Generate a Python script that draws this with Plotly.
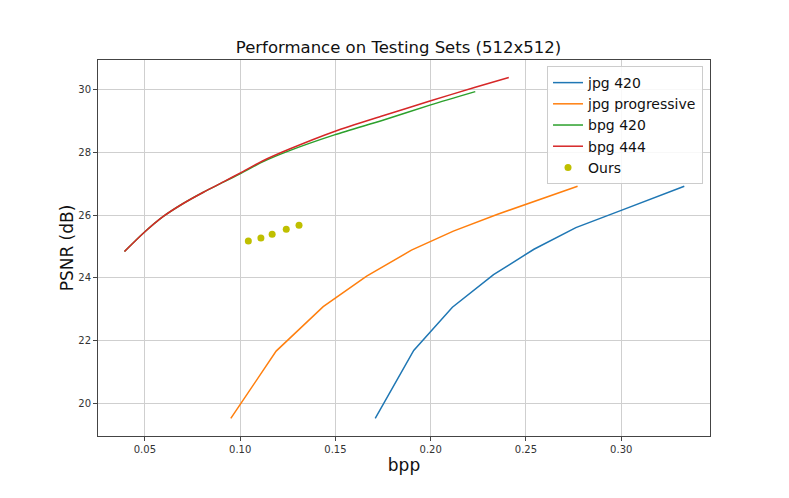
import plotly.graph_objects as go

# jpg 420
jpg420_bpp = [0.1709, 0.1911, 0.2114, 0.2330, 0.2542, 0.2762, 0.3000, 0.3331]
jpg420_psnr = [19.51, 21.68, 23.06, 24.10, 24.91, 25.60, 26.15, 26.92]

# jpg progressive
jpgp_bpp = [0.0951, 0.1189, 0.1436, 0.1664, 0.1899, 0.2119, 0.2348, 0.2771]
jpgp_psnr = [19.51, 21.66, 23.08, 24.05, 24.88, 25.49, 26.02, 26.92]

# bpg 420
bpg420_bpp = [0.0393, 0.0493, 0.0595, 0.0701, 0.0807, 0.0912, 0.1009, 0.1115,
              0.1256, 0.1495, 0.1749, 0.1996, 0.2234]
bpg420_psnr = [24.84, 25.43, 25.95, 26.37, 26.73, 27.05, 27.35, 27.69,
               28.05, 28.56, 29.03, 29.51, 29.94]

# bpg 444
bpg444_bpp = [0.0393, 0.0493, 0.0595, 0.0701, 0.0807, 0.0912, 0.1009, 0.1115,
              0.1256, 0.1495, 0.1749, 0.1996, 0.2234, 0.2410]
bpg444_psnr = [24.84, 25.43, 25.95, 26.37, 26.73, 27.06, 27.37, 27.72,
               28.10, 28.67, 29.17, 29.64, 30.08, 30.39]

# Ours
ours_bpp = [0.1043, 0.1109, 0.1168, 0.1242, 0.1309]
ours_psnr = [25.17, 25.27, 25.39, 25.55, 25.68]

fig = go.Figure()

lines = [
    (jpg420_bpp, jpg420_psnr, 'jpg 420', '#1f77b4', 'linear'),
    (jpgp_bpp, jpgp_psnr, 'jpg progressive', '#ff7f0e', 'linear'),
    (bpg420_bpp, bpg420_psnr, 'bpg 420', '#2ca02c', 'spline'),
    (bpg444_bpp, bpg444_psnr, 'bpg 444', '#d62728', 'spline'),
]
for xs, ys, name, color, shape in lines:
    fig.add_trace(go.Scatter(x=xs, y=ys, mode='lines', name=name,
                             line=dict(color=color, width=1.5, shape=shape, smoothing=0.8)))

fig.add_trace(go.Scatter(x=ours_bpp, y=ours_psnr, mode='markers', name='Ours',
                         marker=dict(color='#bfbf00', size=7)))

axis_style = dict(
    showgrid=True, gridcolor='#cfcfcf', gridwidth=1,
    showline=True, linecolor='#444444', linewidth=1, mirror=True,
    ticks='outside', ticklen=4, tickcolor='#444444',
    tickfont=dict(size=10, color='#333333'),
    zeroline=False,
)

fig.update_xaxes(range=[0.0254, 0.3466], dtick=0.05, tickformat='.2f',
                 title=dict(text='bpp', font=dict(size=17, color='#111111'), standoff=2),
                 **axis_style)
fig.update_yaxes(range=[18.95, 30.95], dtick=2,
                 title=dict(text='PSNR (dB)', font=dict(size=17, color='#111111'), standoff=0),
                 **axis_style)

# page body has an 8px margin, so the figure is a little smaller than the window
fig.update_layout(
    width=781, height=490,
    margin=dict(l=90, r=79, t=52, b=62),
    title=dict(text='Performance on Testing Sets (512x512)', x=0.5, xanchor='center',
               y=0.92, yanchor='middle', font=dict(size=16.5, color='#111111')),
    font=dict(family='DejaVu Sans'),
    plot_bgcolor='#ffffff',
    paper_bgcolor='#ffffff',
    legend=dict(x=0.9886, y=0.984, xanchor='right', yanchor='top',
                bgcolor='rgba(255,255,255,0.85)', bordercolor='#cccccc', borderwidth=1,
                font=dict(size=14, color='#111111'), tracegroupgap=0,
                itemwidth=30),
    showlegend=True,
)

fig.write_html("out.html")
